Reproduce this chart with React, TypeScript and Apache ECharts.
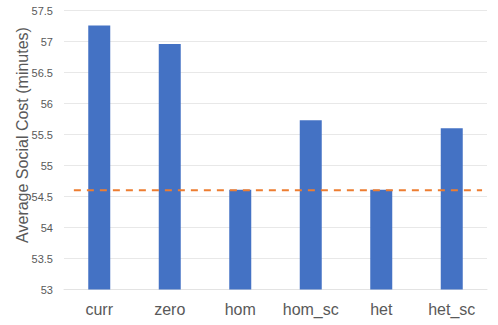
import React, { useEffect, useRef } from "react";
import * as echarts from "echarts";

const categories = ["curr", "zero", "hom", "hom_sc", "het", "het_sc"];
const costValues = [57.26, 56.96, 54.61, 55.73, 54.61, 55.6];
const referenceLevel = 54.6;
const referenceSpan = [0.14, 5.93];
const yMin = 53;
const yMax = 57.5;
const yStep = 0.5;

export default function App() {
  const ref = useRef<HTMLDivElement>(null);
  useEffect(() => {
    const chart = echarts.init(ref.current!, null, { renderer: "svg" });
    const font = "Liberation Sans, Arial, sans-serif";
    chart.setOption({
      animation: false,
      grid: { left: 64, right: 11, top: 10.5, bottom: 35.5 },
      xAxis: [
        {
          type: "category",
          data: categories,
          axisTick: { show: false },
          axisLine: { lineStyle: { color: "#e3e3e3", width: 1 } },
          axisLabel: { color: "#595959", fontSize: 16, fontFamily: font, margin: 12, interval: 0 },
        },
        {
          type: "value",
          min: 0,
          max: categories.length,
          show: false,
        },
      ],
      yAxis: {
        type: "value",
        min: yMin,
        max: yMax,
        interval: yStep,
        axisLine: { show: false },
        axisTick: { show: false },
        splitLine: { lineStyle: { color: "#e8e8e8", width: 1 } },
        axisLabel: {
          color: "#595959",
          fontSize: 11,
          fontFamily: font,
          margin: 11,
          formatter: (v: number) => String(v),
        },
      },
      graphic: [
        {
          type: "text",
          x: 22,
          y: 135,
          rotation: Math.PI / 2,
          style: {
            text: "Average Social Cost (minutes)",
            font: `16px ${font}`,
            fill: "#595959",
            align: "center",
            verticalAlign: "middle",
          },
        },
      ],
      series: [
        {
          type: "bar",
          data: costValues,
          barWidth: 22,
          itemStyle: { color: "#4472C4" },
        },
        {
          type: "line",
          xAxisIndex: 1,
          data: referenceSpan.map((x) => [x, referenceLevel]),
          symbol: "none",
          lineStyle: { color: "#ED7D31", width: 2, type: [7, 6] },
          z: 5,
        },
      ],
    });
    return () => chart.dispose();
  }, []);
  return (
    <div
      ref={ref}
      style={{ position: "absolute", left: 0, top: 0, width: 498, height: 325 }}
    />
  );
}
